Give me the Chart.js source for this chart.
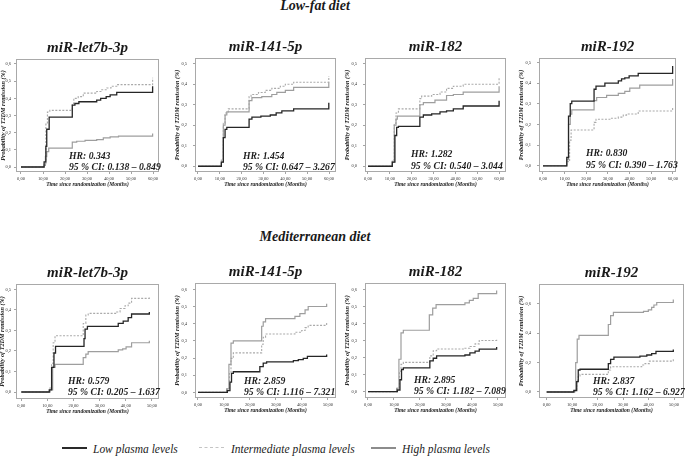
<!DOCTYPE html>
<html><head><meta charset="utf-8">
<script src="https://cdn.jsdelivr.net/npm/chart.js@4.4.0/dist/chart.umd.min.js"></script>
<style>
html,body{margin:0;padding:0;background:#fff;overflow:hidden;width:685px;height:459px;}
body{position:relative;font-family:"Liberation Serif","Times New Roman",serif;}
.sec{position:absolute;left:215px;width:200px;text-align:center;font-weight:bold;font-style:italic;font-size:14px;color:#1a1a1a;line-height:14px;white-space:nowrap;}
canvas{position:absolute;}
.leg{position:absolute;top:441px;font-style:italic;font-size:13.5px;color:#222;white-space:nowrap;line-height:16px;transform:scaleX(0.85);transform-origin:0 50%;}
.sw{position:absolute;height:0;width:25px;}
</style></head><body>
<div class="sec" style="top:-1px">Low-fat diet</div>
<div class="sec" style="top:230px">Mediterranean diet</div>
<div class="sw" style="left:62px;top:447px;border-top:2px solid #2a2a2a"></div>
<div class="leg" id="lg0" style="left:93px"></div>
<div class="sw" style="left:199px;top:447px;border-top:1.5px dashed #c4c4c4"></div>
<div class="leg" id="lg1" style="left:231px"></div>
<div class="sw" style="left:371px;top:447px;border-top:2px solid #8c8c8c"></div>
<div class="leg" id="lg2" style="left:402px"></div>
<script>
// ---- categories / labels ----
const seriesNames = ['Low plasma levels', 'Intermediate plasma levels', 'High plasma levels'];
const panelTitles = ['miR-let7b-3p', 'miR-141-5p', 'miR-182', 'miR-192'];
const xTitle = 'Time since randomization (Months)';
const yTitle = 'Probability of T2DM remission (%)';
const xTicksLF = [0, 10, 20, 30, 40, 50, 60];
const xTicksMD = [0, 10, 20, 30, 40, 50];
const yTicks06 = [0, 0.1, 0.2, 0.3, 0.4, 0.5, 0.6];
const yTicks05 = [0, 0.1, 0.2, 0.3, 0.4, 0.5];
const yTicks06b = [0, 0.2, 0.4, 0.6];
const lfHR = ['HR: 0.343', 'HR: 1.454', 'HR: 1.282', 'HR: 0.830'];
const lfCI = ['95 % CI: 0.138 – 0.849', '95 % CI: 0.647 – 3.267', '95 % CI: 0.540 – 3.044', '95 % CI: 0.390 – 1.763'];
const mdHR = ['HR: 0.579', 'HR: 2.859', 'HR: 2.895', 'HR: 2.837'];
const mdCI = ['95 % CI: 0.205 – 1.637', '95 % CI: 1.116 – 7.321', '95 % CI: 1.182 – 7.089', '95 % CI: 1.162 – 6.927'];

// ---- Low-fat diet series: [month, cumulative probability] ----
const lfLet7bLow   = [[0,0],[10.5,0.03],[11.3,0.12],[11.7,0.22],[12.8,0.29],[23.3,0.36],[24.5,0.37],[26.3,0.38],[34.4,0.39],[36.2,0.40],[38.7,0.41],[40.5,0.42],[43.5,0.435],[59.8,0.47]];
const lfLet7bInter = [[0,0],[10.5,0.02],[11.3,0.25],[12.0,0.32],[13.1,0.33],[23.3,0.37],[24.0,0.40],[26.0,0.41],[28.3,0.43],[34.4,0.44],[36.7,0.45],[39.0,0.46],[40.9,0.47],[43.5,0.48],[59.8,0.52]];
const lfLet7bHigh  = [[0,0],[10.5,0.01],[11.1,0.06],[11.7,0.09],[12.6,0.11],[23.3,0.145],[25.3,0.15],[29.1,0.155],[34.4,0.16],[37.4,0.17],[40.5,0.175],[44.3,0.18],[59.8,0.195]];

const lf141Low   = [[0,0],[10.7,0.02],[11.6,0.14],[12.4,0.18],[13.2,0.19],[23.4,0.23],[24.7,0.24],[28.8,0.245],[33.1,0.25],[35.8,0.26],[38.4,0.27],[43.8,0.28],[59.9,0.31]];
const lf141Inter = [[0,0],[10.7,0.03],[11.6,0.21],[12.4,0.26],[13.9,0.28],[23.4,0.34],[24.3,0.35],[27.7,0.36],[30.8,0.37],[33.8,0.38],[37.7,0.39],[40.0,0.40],[43.8,0.41],[59.9,0.44]];
const lf141High  = [[0,0],[10.7,0.02],[11.6,0.20],[12.4,0.25],[13.2,0.265],[23.4,0.32],[24.7,0.335],[29.2,0.34],[33.8,0.35],[36.1,0.36],[40.0,0.37],[43.8,0.385],[59.9,0.41]];

const lf182Low   = [[0,0],[11.1,0.02],[12.3,0.15],[13.1,0.19],[13.9,0.195],[23.7,0.24],[25.3,0.25],[29.1,0.255],[32.9,0.265],[35.9,0.27],[39.0,0.28],[43.5,0.294],[59.9,0.32]];
const lf182Inter = [[0,0],[11.1,0.03],[12.0,0.21],[12.8,0.26],[13.9,0.28],[23.7,0.33],[24.5,0.342],[29.1,0.35],[32.9,0.362],[35.9,0.38],[39.0,0.39],[43.5,0.40],[59.9,0.435]];
const lf182High  = [[0,0],[11.1,0.02],[12.0,0.20],[12.8,0.23],[13.4,0.245],[23.7,0.30],[25.3,0.31],[30.6,0.323],[35.9,0.345],[39.0,0.35],[43.5,0.362],[59.9,0.39]];

const lf192Low   = [[0,0],[11.0,0.04],[11.8,0.24],[12.6,0.30],[13.3,0.313],[23.6,0.37],[24.5,0.385],[28.6,0.40],[34.8,0.41],[36.3,0.42],[37.8,0.425],[39.8,0.435],[44.0,0.447],[59.9,0.482]];
const lf192Inter = [[0,0],[11.0,0.02],[12.3,0.124],[13.0,0.173],[23.6,0.21],[24.5,0.225],[30.9,0.23],[34.8,0.235],[37.1,0.245],[38.6,0.25],[44.0,0.265],[59.9,0.285]];
const lf192High  = [[0,0],[11.0,0.03],[11.8,0.20],[12.6,0.25],[13.3,0.27],[23.6,0.315],[24.8,0.33],[29.4,0.34],[34.8,0.35],[37.8,0.36],[40.1,0.375],[44.7,0.39],[59.9,0.42]];

// ---- Mediterranean diet series ----
const mdLet7bLow   = [[0,0],[10.7,0.01],[11.6,0.12],[12.5,0.19],[13.1,0.222],[24.0,0.26],[24.4,0.306],[25.3,0.32],[37.1,0.334],[39.0,0.345],[40.9,0.362],[42.2,0.38],[49.0,0.39]];
const mdLet7bInter = [[0,0],[11.0,0.02],[11.6,0.14],[12.2,0.24],[12.9,0.274],[23.7,0.334],[24.7,0.375],[25.6,0.383],[36.5,0.39],[37.8,0.407],[39.7,0.42],[40.9,0.433],[42.2,0.456],[49.0,0.466]];
const mdLet7bHigh  = [[0,0],[11.0,0.01],[12.0,0.12],[12.9,0.135],[23.7,0.167],[24.7,0.185],[25.6,0.197],[37.1,0.205],[38.8,0.21],[40.1,0.22],[42.2,0.24],[49.0,0.25]];

const md141Low   = [[0,0],[11.3,0.01],[12.3,0.06],[12.9,0.11],[13.6,0.12],[23.8,0.15],[25.1,0.17],[26.4,0.178],[36.7,0.185],[38.6,0.19],[40.5,0.198],[42.1,0.21],[49.5,0.22]];
const md141Inter = [[0,0],[11.3,0.02],[12.1,0.11],[12.7,0.198],[13.6,0.23],[24.5,0.28],[25.1,0.32],[26.0,0.34],[37.3,0.35],[39.9,0.36],[41.2,0.377],[42.4,0.39],[49.5,0.405]];
const md141High  = [[0,0],[11.0,0.02],[11.9,0.163],[12.7,0.287],[13.6,0.30],[24.5,0.385],[25.1,0.41],[26.0,0.43],[37.3,0.443],[39.2,0.458],[41.2,0.48],[42.4,0.50],[49.5,0.516]];

const md182Low   = [[0,0],[11.3,0.01],[12.3,0.07],[12.9,0.13],[13.6,0.14],[23.8,0.18],[25.1,0.196],[26.4,0.21],[37.3,0.215],[39.2,0.228],[41.2,0.238],[42.8,0.25],[49.5,0.262]];
const md182Inter = [[0,0],[11.3,0.02],[12.1,0.12],[12.7,0.16],[13.6,0.172],[23.8,0.21],[25.1,0.24],[26.4,0.25],[37.3,0.255],[39.2,0.265],[41.2,0.28],[42.8,0.30],[49.5,0.31]];
const md182High  = [[0,0],[11.0,0.02],[11.9,0.19],[12.7,0.345],[13.6,0.36],[23.6,0.45],[24.9,0.49],[26.2,0.51],[37.3,0.52],[39.0,0.535],[40.5,0.547],[42.4,0.575],[49.5,0.593]];

const md192Low   = [[0,0],[10.7,0.01],[11.8,0.07],[12.4,0.15],[13.1,0.155],[24.2,0.193],[25.1,0.222],[26.4,0.238],[36.6,0.245],[39.3,0.252],[41.2,0.261],[42.9,0.277],[49.7,0.289]];
const md192Inter = [[0,0],[11.1,0.02],[11.8,0.08],[12.4,0.11],[13.1,0.12],[24.2,0.15],[25.1,0.172],[37.3,0.184],[38.6,0.193],[40.3,0.21],[49.7,0.23]];
const md192High  = [[0,0],[10.7,0.01],[11.4,0.20],[12.0,0.36],[12.7,0.386],[24.2,0.46],[25.1,0.52],[26.2,0.543],[38.0,0.55],[39.9,0.56],[41.2,0.577],[42.1,0.593],[43.2,0.61],[49.7,0.63]];

// ---- layout (page pixels) ----
const FONT = '"Liberation Serif","Times New Roman",serif';
const panels = [
  {box:[16,59,159,172],  x:[-2.27,62.7], y:[-0.029,0.629], yt:yTicks06, xt:xTicksLF, yw:16, tp:3, hrPos:[69,156,167], t:0, hr:lfHR[0], ci:lfCI[0], s:[lfLet7bLow, lfLet7bInter, lfLet7bHigh]},
  {box:[195,58,336,172], x:[-1.37,63.2], y:[-0.028,0.528], yt:yTicks05, xt:xTicksLF, yw:21, tp:6, hrPos:[243,156,167], t:1, hr:lfHR[1], ci:lfCI[1], s:[lf141Low, lf141Inter, lf141High]},
  {box:[365,58,506,172], x:[-1.37,63.06], y:[-0.028,0.528], yt:yTicks05, xt:xTicksLF, yw:21, tp:6, hrPos:[411,154,166], t:2, hr:lfHR[2], ci:lfCI[2], s:[lf182Low, lf182Inter, lf182High]},
  {box:[539,58,677,172], x:[-1.84,61.56], y:[-0.03,0.521], yt:yTicks05, xt:xTicksLF, yw:21, tp:6, hrPos:[586,153,165], t:3, hr:lfHR[3], ci:lfCI[3], s:[lf192Low, lf192Inter, lf192High]},
  {box:[16,284,159,399], x:[-2.03,52.7], y:[-0.034,0.526], yt:yTicks05, xt:xTicksMD, yw:17, tp:3, hrPos:[68,381,392], t:0, hr:mdHR[0], ci:mdCI[0], s:[mdLet7bLow, mdLet7bInter, mdLet7bHigh]},
  {box:[195,283,336,398], x:[-1.15,53.1], y:[-0.033,0.637], yt:yTicks06, xt:xTicksMD, yw:21, tp:6, hrPos:[244,381,392], t:1, hr:mdHR[1], ci:mdCI[1], s:[md141Low, md141Inter, md141High]},
  {box:[365,283,506,398], x:[-1.15,53.1], y:[-0.037,0.637], yt:yTicks06, xt:xTicksMD, yw:21, tp:6, hrPos:[414,380,391], t:2, hr:mdHR[2], ci:mdCI[2], s:[md182Low, md182Inter, md182High]},
  {box:[539,284,684,398], x:[-3.0,53.9], y:[-0.041,0.736], yt:yTicks06b, xt:xTicksMD, yw:21, tp:6, hrPos:[593,381,392], t:3, hr:mdHR[3], ci:mdCI[3], s:[md192Low, md192Inter, md192High]}
];

['lg0','lg1','lg2'].forEach((id,i)=>{ document.getElementById(id).textContent = seriesNames[i]; });

const toXY = arr => arr.map(([x, y]) => ({x, y}));

const framePlugin = {
  id: 'frame',
  beforeDatasetsDraw(chart) {
    const {ctx, chartArea: a} = chart;
    ctx.save();
    ctx.strokeStyle = '#a9a9a9';
    ctx.lineWidth = 1;
    ctx.strokeRect(Math.round(a.left) + 0.5, Math.round(a.top) + 0.5, Math.round(a.right - a.left) - 1, Math.round(a.bottom - a.top) - 1);
    ctx.restore();
  },
  afterDraw(chart) {
    const p = chart.options.plugins.frame.panel;
    const ox = p.box[0] - p.yw, oy = p.box[1] - 20;
    const ctx = chart.ctx;
    ctx.save();
    ctx.fillStyle = '#1e1e1e';
    ctx.font = 'italic bold 9.7px ' + FONT;
    ctx.textBaseline = 'middle';
    ctx.textAlign = 'left';
    ctx.fillText(p.hr, p.hrPos[0] - ox, p.hrPos[1] - oy);
    ctx.fillText(p.ci, p.hrPos[0] - ox, p.hrPos[2] - oy);
    ctx.restore();
  }
};

function makePanel(p) {
  const TH = 20, XH = 17, RP = 3;
  const cv = document.createElement('canvas');
  const left = p.box[0] - p.yw, top = p.box[1] - TH;
  const w = (p.box[2] - p.box[0]) + p.yw + RP;
  const h = TH + (p.box[3] - p.box[1]) + XH;
  cv.style.left = left + 'px'; cv.style.top = top + 'px';
  cv.width = w; cv.height = h;
  cv.style.width = w + 'px'; cv.style.height = h + 'px';
  document.body.appendChild(cv);
  const [low, inter, high] = p.s;
  new Chart(cv, {
    type: 'line',
    data: {
      datasets: [
        {label: seriesNames[0], data: toXY(low), borderColor: '#262626', borderWidth: 1.3, stepped: true, pointRadius: 0, fill: false},
        {label: seriesNames[2], data: toXY(high), borderColor: '#9e9e9e', borderWidth: 1.2, stepped: true, pointRadius: 0, fill: false},
        {label: seriesNames[1], data: toXY(inter), borderColor: '#aaaaaa', borderWidth: 1.1, borderDash: [2, 1.5], stepped: true, pointRadius: 0, fill: false}
      ]
    },
    options: {
      responsive: false, animation: false, events: [],
      layout: {padding: {left: 0, right: RP, top: 0, bottom: 0}},
      plugins: {
        legend: {display: false}, tooltip: {enabled: false},
        title: {display: true, text: panelTitles[p.t], fullSize: false, color: '#1a1a1a',
          font: {family: FONT, size: 15, weight: 'bold', style: 'italic'}, padding: {top: 0, bottom: 2}},
        frame: {panel: p}
      },
      scales: {
        x: {
          type: 'linear', min: p.x[0], max: p.x[1],
          afterBuildTicks: s => { s.ticks = p.xt.map(v => ({value: v})); },
          afterFit: s => { s.height = XH; },
          ticks: {font: {family: FONT, size: 4.5}, color: '#333', padding: 2, maxRotation: 0, autoSkip: false,
            callback: v => Number(v).toFixed(2).replace('.', ',')},
          grid: {drawOnChartArea: false, drawTicks: true, tickLength: 2, color: '#666', lineWidth: 0.6},
          border: {display: false},
          title: {display: true, text: xTitle, color: '#222', font: {family: FONT, size: 5.6, weight: 'bold', style: 'italic'}, padding: {top: 0, bottom: 1}}
        },
        y: {
          type: 'linear', min: p.y[0], max: p.y[1],
          afterBuildTicks: s => { s.ticks = p.yt.map(v => ({value: v})); },
          afterFit: s => { s.width = p.yw; },
          ticks: {font: {family: FONT, size: 4.5}, color: '#333', padding: p.tp, autoSkip: false,
            callback: v => Number(v).toFixed(1).replace('.', ',')},
          grid: {drawOnChartArea: false, drawTicks: true, tickLength: 2, color: '#666', lineWidth: 0.6},
          border: {display: false},
          title: {display: true, text: yTitle, color: '#222', font: {family: FONT, size: 6.2, weight: 'bold', style: 'italic'}, padding: {top: 0, bottom: 0}}
        }
      }
    },
    plugins: [framePlugin]
  });
}
panels.forEach(makePanel);
</script>
</body></html>
